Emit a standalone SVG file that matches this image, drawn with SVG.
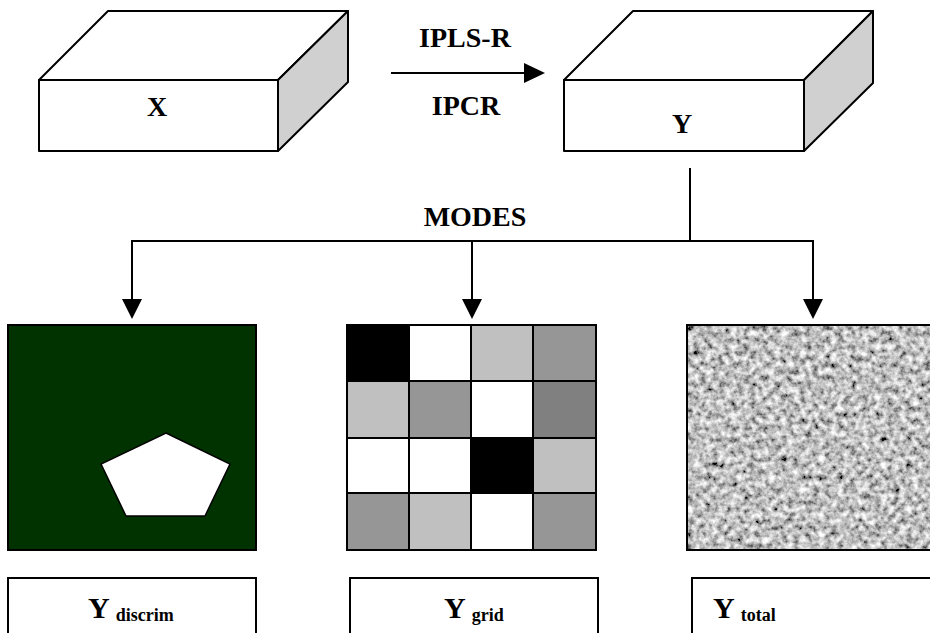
<svg xmlns="http://www.w3.org/2000/svg" width="930" height="633" viewBox="0 0 930 633">
<style>
.ln{stroke:#000;stroke-width:2;fill:none}
.face{stroke:#000;stroke-width:2;stroke-linejoin:round;fill:#fff}
.side{stroke:#000;stroke-width:2;stroke-linejoin:round;fill:#d0d0d0}
.t{font-family:"Liberation Serif","Times New Roman",serif;font-weight:bold;fill:#000}
.cell{stroke:#000;stroke-width:2}
</style>
<defs>
<filter id="noise" filterUnits="userSpaceOnUse" x="687" y="325" width="250" height="226">
<feTurbulence type="fractalNoise" baseFrequency="0.16" numOctaves="3" seed="7" result="n"/>
<feColorMatrix in="n" type="matrix" values="1.6 0 0 0 -0.27  1.6 0 0 0 -0.27  1.6 0 0 0 -0.27  0 0 0 0 1"/>
</filter>
</defs>
<rect width="930" height="633" fill="#fff"/>
<g id="box-x">
<polygon class="face" points="39,80 108,11 348,11 278,80"/>
<polygon class="side" points="278,80 348,11 348,82 278,151"/>
<rect class="face" x="39" y="80" width="239" height="71"/>
<text class="t" x="157" y="116" font-size="28" text-anchor="middle">X</text>
</g>
<g id="box-y">
<polygon class="face" points="564,80 633,11 873,11 804,80"/>
<polygon class="side" points="804,80 873,11 873,83 804,151"/>
<rect class="face" x="564" y="80" width="240" height="71"/>
<text class="t" x="682" y="133" font-size="28" text-anchor="middle">Y</text>
</g>
<g id="connectors">
<line class="ln" x1="391" y1="73" x2="527" y2="73"/>
<polygon points="524,63 545,73 524,83" fill="#000"/>
<text class="t" x="465" y="47" font-size="28" text-anchor="middle">IPLS-R</text>
<text class="t" x="466" y="115" font-size="28" text-anchor="middle">IPCR</text>
<line class="ln" x1="690" y1="168" x2="690" y2="241"/>
<line class="ln" x1="131" y1="241" x2="814" y2="241"/>
<text class="t" x="475" y="226" font-size="28" text-anchor="middle">MODES</text>
<line class="ln" x1="132" y1="241" x2="132" y2="302"/>
<polygon points="122,299 142,299 132,319" fill="#000"/>
<line class="ln" x1="472" y1="241" x2="472" y2="302"/>
<polygon points="462,299 482,299 472,319" fill="#000"/>
<line class="ln" x1="813" y1="241" x2="813" y2="302"/>
<polygon points="803,299 823,299 813,319" fill="#000"/>
</g>
<g id="panel-discrim">
<rect x="8" y="325" width="248" height="225" fill="#003300" stroke="#000" stroke-width="2"/>
<polygon points="166,433 230,464 205,516 126,516 101,464" fill="#fff" stroke="#000" stroke-width="1.5"/>
</g>
<g id="panel-grid">
<rect class="cell" x="347" y="325" width="62" height="56" fill="#000"/>
<rect class="cell" x="409" y="325" width="62" height="56" fill="#fff"/>
<rect class="cell" x="471" y="325" width="62" height="56" fill="#c0c0c0"/>
<rect class="cell" x="533" y="325" width="63" height="56" fill="#969696"/>
<rect class="cell" x="347" y="381" width="62" height="57" fill="#c0c0c0"/>
<rect class="cell" x="409" y="381" width="62" height="57" fill="#969696"/>
<rect class="cell" x="471" y="381" width="62" height="57" fill="#fff"/>
<rect class="cell" x="533" y="381" width="63" height="57" fill="#808080"/>
<rect class="cell" x="347" y="438" width="62" height="55" fill="#fff"/>
<rect class="cell" x="409" y="438" width="62" height="55" fill="#fff"/>
<rect class="cell" x="471" y="438" width="62" height="55" fill="#000"/>
<rect class="cell" x="533" y="438" width="63" height="55" fill="#c0c0c0"/>
<rect class="cell" x="347" y="493" width="62" height="57" fill="#969696"/>
<rect class="cell" x="409" y="493" width="62" height="57" fill="#c0c0c0"/>
<rect class="cell" x="471" y="493" width="62" height="57" fill="#fff"/>
<rect class="cell" x="533" y="493" width="63" height="57" fill="#969696"/>
</g>
<g id="panel-total">
<rect x="687" y="325" width="250" height="225" fill="#fff" filter="url(#noise)"/>
<rect x="687" y="325" width="250" height="225" fill="none" stroke="#000" stroke-width="2"/>
</g>
<g id="label-discrim">
<rect x="8" y="578" width="248" height="70" fill="#fff" stroke="#000" stroke-width="2"/>
<text class="t" x="88" y="618" font-size="30">Y<tspan font-size="18" dx="6" dy="3">discrim</tspan></text>
</g>
<g id="label-grid">
<rect x="350" y="578" width="248" height="70" fill="#fff" stroke="#000" stroke-width="2"/>
<text class="t" x="444" y="618" font-size="30">Y<tspan font-size="18" dx="6" dy="3">grid</tspan></text>
</g>
<g id="label-total">
<rect x="692" y="578" width="250" height="70" fill="#fff" stroke="#000" stroke-width="2"/>
<text class="t" x="713" y="618" font-size="30">Y<tspan font-size="18" dx="6" dy="3">total</tspan></text>
</g>
</svg>
